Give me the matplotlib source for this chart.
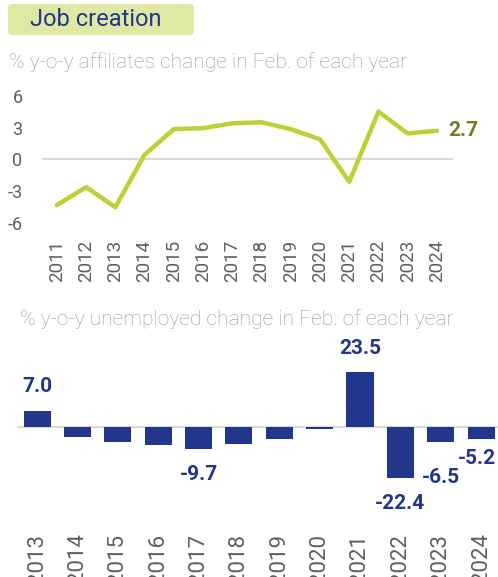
import matplotlib
matplotlib.use("Agg")
import matplotlib.pyplot as plt
from matplotlib.patches import FancyBboxPatch

plt.rcParams['font.family'] = ['Roboto', 'DejaVu Sans']

# Data
line_years = [2011, 2012, 2013, 2014, 2015, 2016, 2017, 2018, 2019, 2020, 2021, 2022, 2023, 2024]
affiliates = [-4.3, -2.6, -4.5, 0.45, 2.85, 2.95, 3.4, 3.5, 2.85, 1.9, -2.1, 4.5, 2.45, 2.7]
bar_years = [2013, 2014, 2015, 2016, 2017, 2018, 2019, 2020, 2021, 2022, 2023, 2024]
unemployed = [7.0, -4.6, -6.5, -8.1, -9.7, -7.6, -5.3, -1.0, 23.5, -22.4, -6.5, -5.2]
labelled = {2013: 7.0, 2017: -9.7, 2021: 23.5, 2022: -22.4, 2023: -6.5, 2024: -5.2}
yticks_line = [-6, -3, 0, 3, 6]

W, H = 498, 577
fig = plt.figure(figsize=(W / 100, H / 100), dpi=100)

LINE_C = '#b8d335'
BAR_C = '#22368c'
GREY = '#9a9a9a'
TICK_C = '#5f5f5f'

def ax_rect(l, t, r, b):
    return [l / W, 1 - b / H, (r - l) / W, (b - t) / H]

# Title box
box = FancyBboxPatch((8 / W, 1 - 35 / H), 186 / W, 31 / H,
                     boxstyle="round,pad=0,rounding_size=0.008",
                     transform=fig.transFigure, facecolor='#dfe9a3', edgecolor='none')
fig.patches.append(box)
fig.text(30 / W, 1 - 19.5 / H, 'Job creation', fontsize=17, color=BAR_C,
         va='center', ha='left')
fig.text(9 / W, 1 - 62 / H, '% y-o-y affiliates change in Feb. of each year',
         fontsize=15.1, fontweight='light', color=GREY, va='center', ha='left')
fig.text(20 / W, 1 - 319 / H, '% y-o-y unemployed change in Feb. of each year',
         fontsize=15.1, fontweight='light', color=GREY, va='center', ha='left')

# Line chart
ax1 = fig.add_axes(ax_rect(42, 90.4, 453, 228.5))
ax1.plot(line_years, affiliates, color=LINE_C, lw=3.2, solid_capstyle='round', zorder=3)
ax1.axhline(0, color='#d9d9d9', lw=1.5, zorder=1)
ax1.set_xlim(2010.49, 2024.55)
ax1.set_ylim(-6.5, 6.5)
ax1.set_yticks(yticks_line)
ax1.set_yticklabels([str(v) for v in yticks_line])
ax1.set_xticks(line_years)
ax1.set_xticklabels([str(y) for y in line_years], rotation=90)
ax1.tick_params(axis='y', length=0, pad=14, labelsize=13, labelcolor=TICK_C)
ax1.tick_params(axis='x', length=0, pad=8, labelsize=13.5, labelcolor=TICK_C)
for s in ax1.spines.values():
    s.set_visible(False)
ax1.patch.set_alpha(0)
ax1.annotate(f'{affiliates[-1]:.1f}', (line_years[-1], affiliates[-1]),
             xytext=(8, 0), textcoords='offset points', va='center', ha='left',
             fontsize=15, fontweight='bold', color='#6e7d1f', annotation_clip=False)

# Bar chart
ax2 = fig.add_axes(ax_rect(17, 357.4, 498, 496))
xs = list(range(len(bar_years)))
ax2.bar(xs, unemployed, width=0.67, color=BAR_C, zorder=2)
ax2.axhline(0, color='#d9d9d9', lw=1.5, zorder=1)
ax2.set_xlim(-0.5, 11.42)
ax2.set_ylim(-30, 30)
ax2.set_yticks([])
ax2.set_xticks(xs)
ax2.set_xticklabels([str(y) for y in bar_years], rotation=90)
ax2.tick_params(axis='x', length=0, pad=27, labelsize=16, labelcolor=TICK_C)
for s in ax2.spines.values():
    s.set_visible(False)
ax2.patch.set_alpha(0)
offsets = {2013: (0, 17), 2017: (0, -18), 2021: (0, 17), 2022: (0, -18), 2023: (0, -26), 2024: (-3, -14)}
for i, y in enumerate(bar_years):
    if y in labelled:
        v = labelled[y]
        dx, dy = offsets[y]
        ax2.annotate(f'{v:.1f}', (i, v), xytext=(dx, dy), textcoords='offset points',
                     ha='center', va='center', fontsize=15, fontweight='bold',
                     color=BAR_C, annotation_clip=False)

fig.savefig('out.png', dpi=100)
